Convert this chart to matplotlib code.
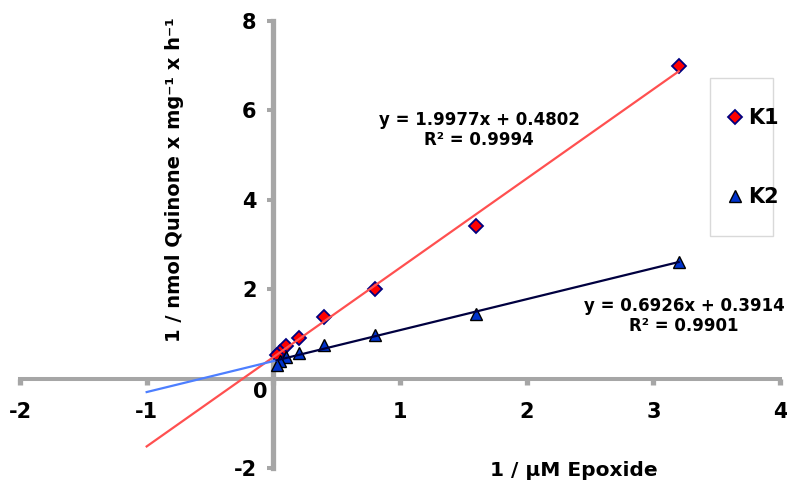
import matplotlib
matplotlib.use('Agg')
import matplotlib.pyplot as plt
from matplotlib.patches import Rectangle
from matplotlib.lines import Line2D
import numpy as np

# ---- data ----
x_epoxide = [3.2, 1.6, 0.8, 0.4, 0.2, 0.1, 0.05, 0.025]
k1_values = [7.0, 3.42, 2.0, 1.38, 0.9, 0.72, 0.6, 0.52]
k2_values = [2.6, 1.45, 0.97, 0.75, 0.58, 0.48, 0.4, 0.3]
k1_fit = (1.9977, 0.4802, 0.9994)   # slope, intercept, R²
k2_fit = (0.6926, 0.3914, 0.9901)
fit_start = -1.0
x_ticks = [-2, -1, 0, 1, 2, 3, 4]
y_ticks = [-2, 0, 2, 4, 6, 8]
series_labels = ['K1', 'K2']
x_title = '1 / µM Epoxide'
y_title = '1 / nmol Quinone x mg\u207b\u00b9 x h\u207b\u00b9'

plt.rcParams['font.family'] = ['DejaVu Sans']
plt.rcParams['font.weight'] = 'bold'

W, H = 787, 483
fig = plt.figure(figsize=(W / 100, H / 100), dpi=100)
ax = fig.add_axes([20 / W, 15 / H, 760 / W, 447 / H])
ax.set_xlim(x_ticks[0], x_ticks[-1])
ax.set_ylim(y_ticks[0], y_ticks[-1])

axis_gray = '#a6a6a6'
for s in ['top', 'right']:
    ax.spines[s].set_visible(False)
ax.spines['left'].set_position(('data', 0))
ax.spines['bottom'].set_position(('data', 0))
ax.spines['left'].set_color(axis_gray)
ax.spines['bottom'].set_color(axis_gray)
ax.spines['left'].set_linewidth(3.8)
ax.spines['bottom'].set_linewidth(2.9)

ax.set_xticks(x_ticks)
ax.set_xticklabels(['' if t == 0 else str(t) for t in x_ticks])
ax.set_yticks(y_ticks)
ax.set_yticklabels(['' if t == 0 else str(t) for t in y_ticks])
ax.tick_params(axis='x', direction='out', length=4.5, width=3.8, color=axis_gray,
               pad=12, labelsize=15)
ax.tick_params(axis='y', direction='out', length=4, width=2.9, color=axis_gray,
               pad=8, labelsize=15)
for lab in ax.get_xticklabels() + ax.get_yticklabels():
    lab.set_fontweight('bold')
ax.text(-0.1, -0.31, '0', ha='center', va='center', fontsize=15, fontweight='bold')

# ---- trend lines ----
xk = np.array(x_epoxide)
a1, b1, r1 = k1_fit
a2, b2, r2 = k2_fit
xr = np.array([fit_start, xk.max()])
ax.plot(xr, a1 * xr + b1, color='#ff5050', lw=1.6, zorder=4, clip_on=False)
xl = np.array([fit_start, xk.min()])
ax.plot(xl, a2 * xl + b2, color='#4d7fff', lw=1.6, zorder=4, clip_on=False)
xd = np.array([xk.min(), xk.max()])
ax.plot(xd, a2 * xd + b2, color='#000040', lw=1.6, zorder=4, clip_on=False)

# ---- data points ----
k1_style = dict(marker='D', ms=7.2, mfc='#ff0000', mec='#000080', mew=1.3, ls='none')
k2_style = dict(marker='^', ms=8.8, mfc='#0033cc', mec='#000000', mew=1.0, ls='none')
ax.plot(x_epoxide, k1_values, zorder=3, clip_on=False, **k1_style)
ax.plot(x_epoxide, k2_values, zorder=3, clip_on=False, **k2_style)

# ---- equations ----
ax.text(0.604, 0.756, f'y = {a1:.4f}x + {b1:.4f}\nR² = {r1:.4f}', transform=ax.transAxes,
        ha='center', va='center', multialignment='center', fontsize=12, fontweight='bold',
        linespacing=1.2)
ax.text(0.874, 0.340, f'y = {a2:.4f}x + {b2:.4f}\nR² = {r2:.4f}', transform=ax.transAxes,
        ha='center', va='center', multialignment='center', fontsize=12, fontweight='bold',
        linespacing=1.2)

# ---- axis titles ----
fig.text(175 / W, 1 - 180 / H, y_title, rotation=90, ha='center', va='center',
         fontsize=14, fontweight='bold')
fig.text(574 / W, 1 - 470 / H, x_title, ha='center', va='center',
         fontsize=14.5, fontweight='bold')

# ---- legend ----
fig.patches.append(Rectangle((710 / W, 1 - 236 / H), 63 / W, 158 / H, transform=fig.transFigure,
                             fill=False, edgecolor='#d9d9d9', lw=1.0))
handles = [Line2D([], [], **k1_style), Line2D([], [], **k2_style)]
fig.legend(handles, series_labels, loc='center left', bbox_to_anchor=(715 / W, 1 - 157.5 / H),
           frameon=False, borderpad=0, handlelength=0.92, handletextpad=0.15,
           labelspacing=2.85, prop={'weight': 'bold', 'size': 15})

fig.savefig('out.png', dpi=100)
